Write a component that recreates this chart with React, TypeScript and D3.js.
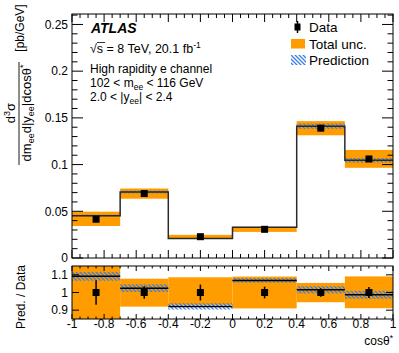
import React from 'react';
import * as d3 from 'd3';

const width = 399;
const height = 353;
const top = { x0: 72, x1: 393, y0: 14, y1: 258 };
const bot = { x0: 72, x1: 393, y0: 266, y1: 319 };
const font = 'Liberation Sans, Arial, Helvetica, sans-serif';
const orange = '#ff9c00';
const blue = '#3b7fe0';

// cos theta* bins
const binEdges = [-1, -0.7, -0.4, 0, 0.4, 0.7, 1];
const dataValues = [0.0415, 0.069, 0.0228, 0.0307, 0.139, 0.106];
const dataErrRel = [0.07, 0.035, 0.045, 0.033, 0.024, 0.031];
const totalLoRel = [0.826, 0.92, 0.93, 0.91, 0.945, 0.911];
const totalHiRel = [1.195, 1.078, 1.086, 1.09, 1.054, 1.091];
const predValues = [0.0453, 0.0707, 0.021, 0.0328, 0.1411, 0.1046];
const predErrRel = [0.023, 0.021, 0.019, 0.012, 0.02, 0.023];

const xTicks = [-1, -0.8, -0.6, -0.4, -0.2, 0, 0.2, 0.4, 0.6, 0.8, 1];
const yTopTicks = [0, 0.05, 0.1, 0.15, 0.2, 0.25];
const yBotTicks = [0.9, 1, 1.1];

const x = d3.scaleLinear().domain([-1, 1]).range([top.x0, top.x1]);
const yTop = d3.scaleLinear().domain([0, 0.2612]).range([top.y1, top.y0]);
const yBot = d3.scaleLinear().domain([0.85, 1.15]).range([bot.y1, bot.y0]);

const bins = dataValues.map((d, i) => {
  const lo = binEdges[i];
  const hi = binEdges[i + 1];
  const ratio = predValues[i] / d;
  return {
    lo,
    hi,
    mid: (lo + hi) / 2,
    data: d,
    err: d * dataErrRel[i],
    totLo: d * totalLoRel[i],
    totHi: d * totalHiRel[i],
    pred: predValues[i],
    predLo: predValues[i] * (1 - predErrRel[i]),
    predHi: predValues[i] * (1 + predErrRel[i]),
    ratio,
    rErr: dataErrRel[i],
    rTotLo: totalLoRel[i],
    rTotHi: totalHiRel[i],
    rPredLo: ratio * (1 - predErrRel[i]),
    rPredHi: ratio * (1 + predErrRel[i])
  };
});

const stepLine = d3
  .line<[number, number]>()
  .x(d => x(d[0]))
  .y(d => yTop(d[1]))
  .curve(d3.curveStepAfter)(
  bins.map(b => [b.lo, b.pred] as [number, number]).concat([[1, bins[bins.length - 1].pred]])
);

const minor = (start: number, stop: number, step: number) =>
  d3.range(Math.round((stop - start) / step) + 1).map(i => start + i * step);

const fmt = (v: number) => String(+v.toFixed(2));

function Marker({ cx, cy }: { cx: number; cy: number }) {
  return <rect x={cx - 3.5} y={cy - 3.5} width={7} height={7} fill="#000" />;
}

export default function App() {
  const clipBot = 'clipBot';
  return (
    <svg width={width} height={height} style={{ display: 'block', position: 'absolute', left: 0, top: 0 }} fontFamily={font}>
      <defs>
        <pattern id="hatch" patternUnits="userSpaceOnUse" width={4} height={4}>
          <path d="M0,0 L4,4 M-1,3 L1,5 M3,-1 L5,1" stroke={blue} strokeWidth={1.3} />
        </pattern>
        <clipPath id={clipBot}>
          <rect x={bot.x0} y={bot.y0} width={bot.x1 - bot.x0} height={bot.y1 - bot.y0} />
        </clipPath>
      </defs>
      <rect width={width} height={height} fill="#fff" />

      {/* upper panel */}
      {bins.map((b, i) => (
        <rect key={'t' + i} x={x(b.lo)} width={x(b.hi) - x(b.lo)} y={yTop(b.totHi)} height={yTop(b.totLo) - yTop(b.totHi)} fill={orange} />
      ))}
      {bins.map((b, i) => (
        <rect key={'p' + i} x={x(b.lo)} width={x(b.hi) - x(b.lo)} y={yTop(b.predHi)} height={yTop(b.predLo) - yTop(b.predHi)} fill="url(#hatch)" />
      ))}
      <path d={stepLine || ''} fill="none" stroke="#2a2a2a" strokeWidth={1.5} />
      {bins.map((b, i) => (
        <g key={'d' + i}>
          <line x1={x(b.mid)} x2={x(b.mid)} y1={yTop(b.data - b.err)} y2={yTop(b.data + b.err)} stroke="#000" strokeWidth={1.5} />
          <Marker cx={x(b.mid)} cy={yTop(b.data)} />
        </g>
      ))}

      {/* upper axes */}
      <rect x={top.x0} y={top.y0} width={top.x1 - top.x0} height={top.y1 - top.y0} fill="none" stroke="#000" strokeWidth={1} />
      {minor(-1, 1, 0.05).map((v, i) => {
        const len = Math.abs(v * 5 - Math.round(v * 5)) < 1e-6 ? 8 : 4;
        return (
          <g key={'xt' + i} stroke="#000">
            <line x1={x(v)} x2={x(v)} y1={top.y1} y2={top.y1 - len} />
            <line x1={x(v)} x2={x(v)} y1={top.y0} y2={top.y0 + len} />
          </g>
        );
      })}
      {minor(0, 0.26, 0.01).map((v, i) => {
        const len = i % 5 === 0 ? 11 : 5.5;
        return (
          <g key={'yt' + i} stroke="#000">
            <line x1={top.x0} x2={top.x0 + len} y1={yTop(v)} y2={yTop(v)} />
            <line x1={top.x1} x2={top.x1 - len} y1={yTop(v)} y2={yTop(v)} />
          </g>
        );
      })}
      {yTopTicks.map(v => (
        <text key={'yl' + v} x={68} y={yTop(v)} dy="0.36em" textAnchor="end" fontSize={12}>
          {fmt(v)}
        </text>
      ))}

      {/* y title */}
      <g transform="rotate(-90)">
        <text x={-113} y={15} textAnchor="middle" fontSize={13}>
          d<tspan dy={-5} fontSize={9}>3</tspan>
          <tspan dy={5}>σ</tspan>
        </text>
        <line x1={-165} x2={-62} y1={19} y2={19} stroke="#000" strokeWidth={0.9} />
        <text x={-113} y={31} textAnchor="middle" fontSize={13}>
          dm<tspan dy={3} fontSize={9}>ee</tspan>
          <tspan dy={-3}>d|y</tspan>
          <tspan dy={3} fontSize={9}>ee</tspan>
          <tspan dy={-3}>|dcosθ</tspan>
          <tspan dy={-5} fontSize={9}>*</tspan>
        </text>
        <text x={-28} y={24} textAnchor="middle" fontSize={12}>[pb/GeV]</text>
      </g>

      {/* annotations */}
      <text x={91} y={33} fontSize={14} fontWeight="bold" fontStyle="italic">ATLAS</text>
      <line x1={97} x2={105} y1={42.5} y2={42.5} stroke="#000" strokeWidth={0.8} />
      <text x={90} y={53} fontSize={12.5}>
        √s = 8 TeV, 20.1 fb<tspan dy={-5} fontSize={8.5}>-1</tspan>
      </text>
      <text x={90} y={73} fontSize={12}>High rapidity e channel</text>
      <text x={90} y={87} fontSize={12}>
        102 &lt; m<tspan dy={3} fontSize={8.5}>ee</tspan>
        <tspan dy={-3}> &lt; 116 GeV</tspan>
      </text>
      <text x={90} y={101} fontSize={12}>
        2.0 &lt; |y<tspan dy={3} fontSize={8.5}>ee</tspan>
        <tspan dy={-3}>| &lt; 2.4</tspan>
      </text>

      {/* legend */}
      <line x1={297.5} x2={297.5} y1={21} y2={33} stroke="#000" strokeWidth={1.5} />
      <rect x={294.5} y={23.5} width={6} height={7} fill="#000" />
      <text x={309} y={32} fontSize={13.5}>Data</text>
      <rect x={291} y={39} width={14} height={9.5} fill={orange} />
      <text x={309} y={48.5} fontSize={13.5}>Total unc.</text>
      <rect x={291} y={55} width={15} height={10} fill="url(#hatch)" />
      <text x={309} y={65} fontSize={13.5}>Prediction</text>

      {/* lower panel */}
      <g clipPath={`url(#${clipBot})`}>
        {bins.map((b, i) => (
          <rect key={'rt' + i} x={x(b.lo)} width={x(b.hi) - x(b.lo)} y={yBot(b.rTotHi)} height={yBot(b.rTotLo) - yBot(b.rTotHi)} fill={orange} />
        ))}
        {bins.map((b, i) => (
          <rect key={'rp' + i} x={x(b.lo)} width={x(b.hi) - x(b.lo)} y={yBot(b.rPredHi)} height={yBot(b.rPredLo) - yBot(b.rPredHi)} fill="url(#hatch)" />
        ))}
        {bins.map((b, i) => (
          <line key={'rl' + i} x1={x(b.lo)} x2={x(b.hi)} y1={yBot(b.ratio)} y2={yBot(b.ratio)} stroke="#000" strokeWidth={1.5} />
        ))}
        {bins.map((b, i) => (
          <g key={'rd' + i}>
            <line x1={x(b.mid)} x2={x(b.mid)} y1={yBot(1 - b.rErr)} y2={yBot(1 + b.rErr)} stroke="#000" strokeWidth={1.5} />
            <Marker cx={x(b.mid)} cy={yBot(1)} />
          </g>
        ))}
      </g>
      <rect x={bot.x0} y={bot.y0} width={bot.x1 - bot.x0} height={bot.y1 - bot.y0} fill="none" stroke="#000" strokeWidth={1} />
      {minor(-1, 1, 0.05).map((v, i) => {
        const len = Math.abs(v * 5 - Math.round(v * 5)) < 1e-6 ? 5 : 2.5;
        return (
          <g key={'bxt' + i} stroke="#000">
            <line x1={x(v)} x2={x(v)} y1={bot.y1} y2={bot.y1 - len} />
            <line x1={x(v)} x2={x(v)} y1={bot.y0} y2={bot.y0 + len} />
          </g>
        );
      })}
      {yBotTicks.map(v => (
        <g key={'byt' + v} stroke="#000">
          <line x1={bot.x0} x2={bot.x0 + 7} y1={yBot(v)} y2={yBot(v)} />
          <line x1={bot.x1} x2={bot.x1 - 7} y1={yBot(v)} y2={yBot(v)} />
        </g>
      ))}
      {yBotTicks.map(v => (
        <text key={'byl' + v} x={68} y={yBot(v)} dy="0.36em" textAnchor="end" fontSize={12}>
          {fmt(v)}
        </text>
      ))}
      {xTicks.map(v => (
        <text key={'xl' + v} x={x(v)} y={327.5} textAnchor="middle" fontSize={12}>
          {fmt(v)}
        </text>
      ))}
      <text x={393} y={345} textAnchor="end" fontSize={12}>
        cosθ<tspan dy={-4.5} fontSize={8.5}>*</tspan>
      </text>
      <text transform="translate(25,297) rotate(-90)" textAnchor="middle" fontSize={12}>
        Pred. / Data
      </text>
    </svg>
  );
}
